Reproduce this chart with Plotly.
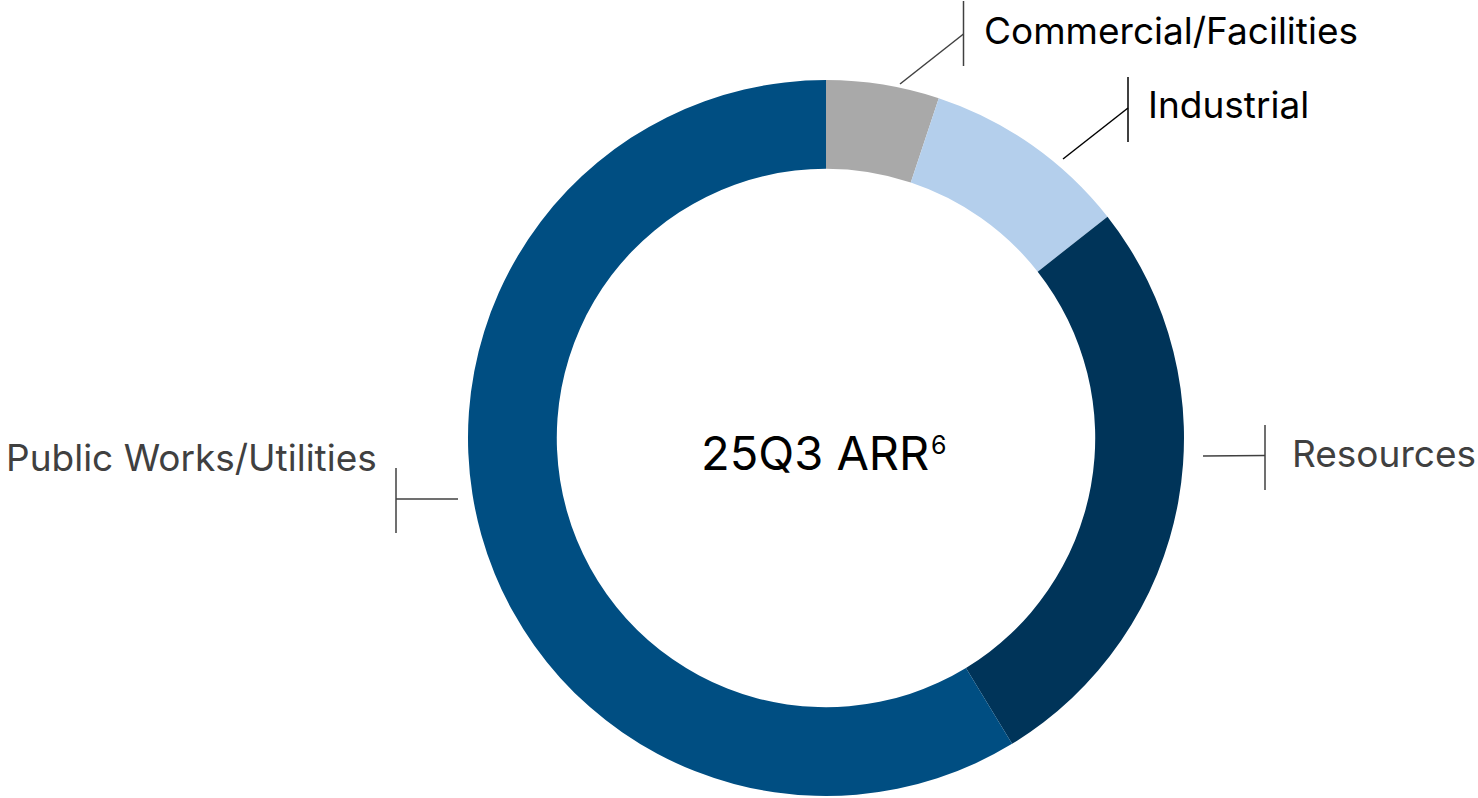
import plotly.graph_objects as go

# ARR mix by end market (share of total, %)
segments = ["Commercial/Facilities", "Industrial", "Resources", "Public Works/Utilities"]
shares = [5.1, 9.3, 26.9, 58.7]
colors = ["#A9A9A9", "#B4CFEC", "#003459", "#004E82"]
center_label = "25Q3 ARR"
center_note = "6"

W, H = 1478, 798


def px(x):
    return x / W


def py(y):
    return 1 - y / H


fig = go.Figure(
    go.Pie(
        labels=segments,
        values=shares,
        sort=False,
        direction="clockwise",
        rotation=0,
        hole=0.752,
        marker=dict(colors=colors, line=dict(width=0)),
        textinfo="none",
        hoverinfo="label+percent",
        showlegend=False,
        domain=dict(x=[px(468), px(1184)], y=[py(796), py(80)]),
    )
)

# Callout layout: leader line (start -> elbow), vertical bar, text anchor
callouts = [
    dict(text=segments[0], color="#000000", line="#404040",
         start=(900, 84), elbow=(963.5, 34), bar=(1, 66),
         pos=(982, 30), xanchor="left"),
    dict(text=segments[1], color="#000000", line="#000000",
         start=(1063, 159), elbow=(1128, 108), bar=(77, 142),
         pos=(1146, 105), xanchor="left"),
    dict(text=segments[2], color="#404040", line="#404040",
         start=(1203, 456), elbow=(1265, 455.5), bar=(425, 490),
         pos=(1290, 453), xanchor="left"),
    dict(text=segments[3], color="#404040", line="#404040",
         start=(458, 499), elbow=(396, 499), bar=(468, 533),
         pos=(379, 457), xanchor="right"),
]

shapes = []
annotations = []
for c in callouts:
    (x0, y0), (x1, y1) = c["start"], c["elbow"]
    shapes.append(dict(type="line", xref="paper", yref="paper",
                       x0=px(x0), y0=py(y0), x1=px(x1), y1=py(y1),
                       line=dict(color=c["line"], width=1.5)))
    shapes.append(dict(type="line", xref="paper", yref="paper",
                       x0=px(x1), y0=py(c["bar"][0]), x1=px(x1), y1=py(c["bar"][1]),
                       line=dict(color=c["line"], width=1.5)))
    annotations.append(dict(text=c["text"], xref="paper", yref="paper",
                            x=px(c["pos"][0]), y=py(c["pos"][1]),
                            xanchor=c["xanchor"], yanchor="middle", showarrow=False,
                            font=dict(family="Inter", size=37, color=c["color"])))

# Centre title with its footnote marker set as a raised, smaller figure
annotations.append(dict(text=center_label, xref="paper", yref="paper",
                        x=px(931), y=py(452), xanchor="right", yanchor="middle",
                        showarrow=False,
                        font=dict(family="Inter", size=47, color="#000000")))
annotations.append(dict(text=center_note, xref="paper", yref="paper",
                        x=px(929), y=py(445), xanchor="left", yanchor="middle",
                        showarrow=False,
                        font=dict(family="Inter", size=25, color="#000000")))

fig.update_layout(
    width=W, height=H,
    margin=dict(l=0, r=0, t=0, b=0),
    paper_bgcolor="white", plot_bgcolor="white",
    shapes=shapes, annotations=annotations,
)

fig.write_html("out.html")
